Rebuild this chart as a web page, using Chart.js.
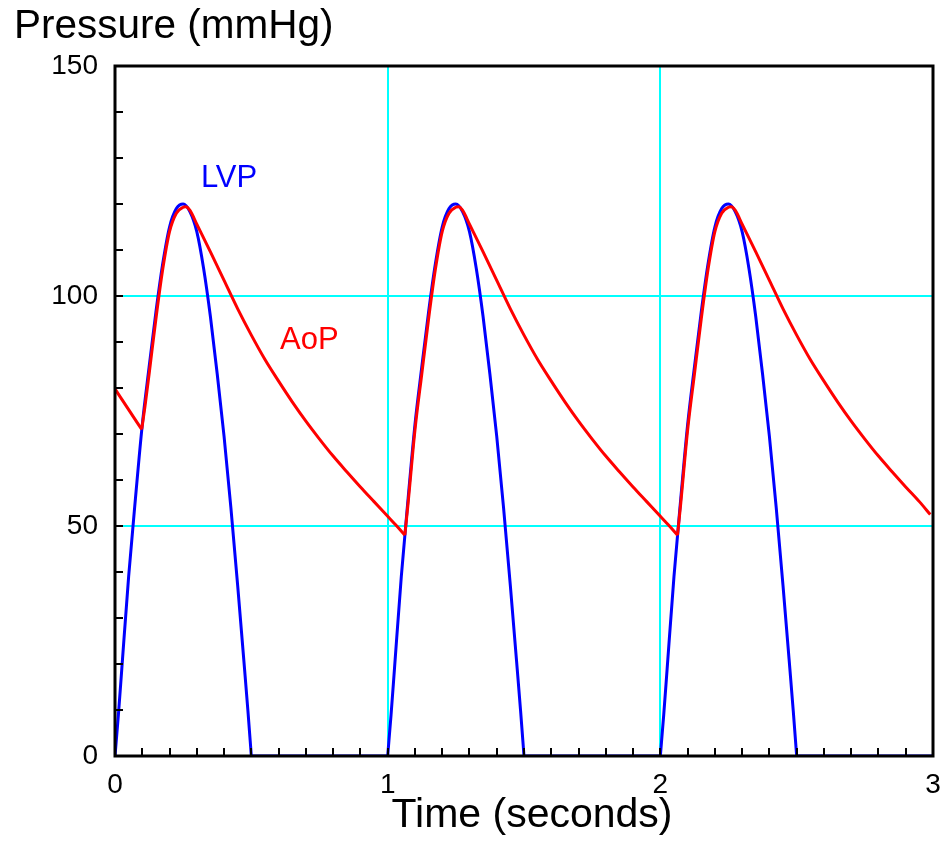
<!DOCTYPE html>
<html>
<head>
<meta charset="utf-8">
<script src="https://cdn.jsdelivr.net/npm/chart.js@4/dist/chart.umd.min.js"></script>
<style>
  html, body { margin: 0; padding: 0; background: #fff; }
  #wrap { width: 945px; height: 851px; position: relative; }
</style>
</head>
<body>
<div id="wrap"><canvas id="grafico"></canvas></div>
<script>
// Datos (tiempo en s, presión en mmHg)
const lvpTime = [
  0, 0.0125, 0.025, 0.05, 0.075, 0.1, 0.125, 0.15, 0.175, 0.2, 0.225, 0.25, 0.275, 0.3, 0.325, 0.35, 0.375, 0.4, 0.425, 0.45, 0.475, 0.4875, 0.5, 1.0,
  1.0125, 1.025, 1.05, 1.075, 1.1, 1.125, 1.15, 1.175, 1.2, 1.225, 1.25, 1.275, 1.3, 1.325, 1.35, 1.375, 1.4, 1.425, 1.45, 1.475, 1.4875, 1.5, 2.0,
  2.0125, 2.025, 2.05, 2.075, 2.1, 2.125, 2.15, 2.175, 2.2, 2.225, 2.25, 2.275, 2.3, 2.325, 2.35, 2.375, 2.4, 2.425, 2.45, 2.475, 2.4875, 2.5, 3.0
];
const lvpPressure = [
  0, 9, 19, 39, 56, 72, 84.5, 96.5, 107, 115, 119, 120, 118.3, 114, 106, 95.5, 83, 69.5, 54, 37, 19, 9.8, 0, 0,
  9, 19, 39, 56, 72, 84.5, 96.5, 107, 115, 119, 120, 118.3, 114, 106, 95.5, 83, 69.5, 54, 37, 19, 9.8, 0, 0,
  9, 19, 39, 56, 72, 84.5, 96.5, 107, 115, 119, 120, 118.3, 114, 106, 95.5, 83, 69.5, 54, 37, 19, 9.8, 0, 0
];
// puntos donde la curva hace esquina
const lvpCorners = [0.5, 1.0, 1.5, 2.0, 2.5];

const aopTime = [
  0, 0.05, 0.098, 0.11, 0.125, 0.15, 0.175, 0.2, 0.225, 0.25, 0.26, 0.275, 0.3, 0.35, 0.4, 0.45, 0.5, 0.55, 0.6, 0.65, 0.7, 0.75, 0.8, 0.85, 0.9, 0.95, 1.0, 1.03, 1.063,
  1.075, 1.1, 1.125, 1.15, 1.175, 1.2, 1.225, 1.25, 1.26, 1.275, 1.3, 1.35, 1.4, 1.45, 1.5, 1.55, 1.6, 1.65, 1.7, 1.75, 1.8, 1.85, 1.9, 1.95, 2.0, 2.03, 2.063,
  2.075, 2.1, 2.125, 2.15, 2.175, 2.2, 2.225, 2.25, 2.26, 2.275, 2.3, 2.35, 2.4, 2.45, 2.5, 2.55, 2.6, 2.65, 2.7, 2.75, 2.8, 2.85, 2.9, 2.95, 2.99
];
const aopPressure = [
  79.8, 75.3, 71, 76, 83, 95, 105.8, 114, 118, 119.3, 119.4, 118.6, 115.6, 109.6, 103.4, 97.2, 91.5, 86.2, 81.5, 77.0, 72.8, 68.9, 65.2, 61.8, 58.5, 55.3, 52.1, 50.2, 48.0,
  55, 70.8, 83, 95, 105.8, 114, 118, 119.3, 119.4, 118.6, 115.6, 109.6, 103.4, 97.2, 91.5, 86.2, 81.5, 77.0, 72.8, 68.9, 65.2, 61.8, 58.5, 55.3, 52.1, 50.2, 48.0,
  55, 70.8, 83, 95, 105.8, 114, 118, 119.3, 119.4, 118.6, 115.6, 109.6, 103.4, 97.2, 91.5, 86.2, 81.5, 77.0, 72.8, 68.9, 65.2, 61.8, 58.5, 55.3, 52.5
];
const aopCorners = [0.098, 1.063, 2.063];

const yLabels = [0, 50, 100, 150];
const xLabels = [0, 1, 2, 3];
const gridY = [50, 100];
const gridX = [1, 2];

const FUENTE = "'Liberation Sans', Arial, Helvetica, sans-serif";
Chart.defaults.font.family = FUENTE;
Chart.defaults.color = '#000';

const esEntero = v => Math.abs(v - Math.round(v)) < 1e-6;
const enLista = (lista, v) => lista.some(l => Math.abs(l - v) < 1e-6);

// 🔹 Corta la serie en las esquinas para que el suavizado no las redondee
function piezas(tt, vv, cortes) {
  const out = [];
  let actual = [];
  tt.forEach((t, i) => {
    actual.push({ x: t, y: vv[i] });
    if (enLista(cortes, t) && actual.length > 1) {
      out.push(actual);
      actual = [{ x: t, y: vv[i] }];
    }
  });
  if (actual.length > 1) out.push(actual);
  return out;
}

function serie(puntos, color) {
  return {
    data: puntos,
    borderColor: color,
    borderWidth: 3,
    pointRadius: 0,
    cubicInterpolationMode: 'monotone'
  };
}

// 🔹 Plugin: marco, marcas interiores, títulos de ejes y etiquetas de series
const extras = {
  id: 'extras',
  afterDatasetsDraw(chart) {
    const { ctx, chartArea: a, scales: { x, y } } = chart;
    ctx.save();
    ctx.strokeStyle = '#000';
    ctx.lineWidth = 2;
    // marcas interiores
    ctx.beginPath();
    y.ticks.forEach(t => {
      const py = Math.round(y.getPixelForValue(t.value));
      ctx.moveTo(a.left, py); ctx.lineTo(a.left + 8, py);
    });
    x.ticks.forEach(t => {
      const px = Math.round(x.getPixelForValue(t.value));
      ctx.moveTo(px, a.bottom); ctx.lineTo(px, a.bottom - 8);
    });
    ctx.stroke();
    // marco
    ctx.lineWidth = 3;
    ctx.strokeRect(a.left, a.top, a.right - a.left, a.bottom - a.top);

    // títulos
    ctx.fillStyle = '#000';
    ctx.textBaseline = 'alphabetic';
    ctx.font = '40.5px ' + FUENTE;
    ctx.textAlign = 'left';
    ctx.fillText('Pressure (mmHg)', 14, 38);
    ctx.font = '41px ' + FUENTE;
    ctx.textAlign = 'center';
    ctx.fillText('Time (seconds)', 532, 827);

    // etiquetas de series
    ctx.font = '31px ' + FUENTE;
    ctx.textAlign = 'left';
    ctx.textBaseline = 'middle';
    ctx.fillStyle = '#0000ff';
    ctx.fillText('LVP', x.getPixelForValue(0.315), y.getPixelForValue(125.5));
    ctx.fillStyle = '#ff0000';
    ctx.fillText('AoP', x.getPixelForValue(0.605), y.getPixelForValue(90.4));
    ctx.restore();
  }
};

const datasets = [
  ...piezas(aopTime, aopPressure, aopCorners).map(p => serie(p, '#ff0000')),
  ...piezas(lvpTime, lvpPressure, lvpCorners).map(p => serie(p, '#0000ff'))
];

const grafico = new Chart(document.getElementById('grafico').getContext('2d'), {
  type: 'line',
  data: { datasets },
  options: {
    responsive: true,
    maintainAspectRatio: false,
    animation: false,
    layout: { padding: { left: 0, right: 12, top: 66, bottom: 0 } },
    plugins: { legend: { display: false }, tooltip: { enabled: false } },
    scales: {
      x: {
        type: 'linear',
        min: 0,
        max: 3,
        border: { display: false },
        grid: {
          drawTicks: false,
          lineWidth: 2,
          color: c => enLista(gridX, c.tick.value) ? '#00ffff' : 'rgba(0,0,0,0)'
        },
        ticks: {
          stepSize: 0.1,
          padding: 12,
          maxRotation: 0,
          autoSkip: false,
          font: { size: 28 },
          callback: v => (esEntero(v) && enLista(xLabels, v)) ? String(Math.round(v)) : ''
        },
        afterFit: s => { s.height = 95; s.paddingRight = 0; s.paddingLeft = 0; }
      },
      y: {
        min: 0,
        max: 150,
        border: { display: false },
        grid: {
          drawTicks: false,
          lineWidth: 2,
          color: c => enLista(gridY, c.tick.value) ? '#00ffff' : 'rgba(0,0,0,0)'
        },
        ticks: {
          stepSize: 10,
          padding: 17,
          autoSkip: false,
          font: { size: 28 },
          callback: v => enLista(yLabels, v) ? String(v) : ''
        },
        afterFit: s => { s.width = 115; s.paddingTop = 0; s.paddingBottom = 0; }
      }
    }
  },
  plugins: [extras]
});
</script>
</body>
</html>
